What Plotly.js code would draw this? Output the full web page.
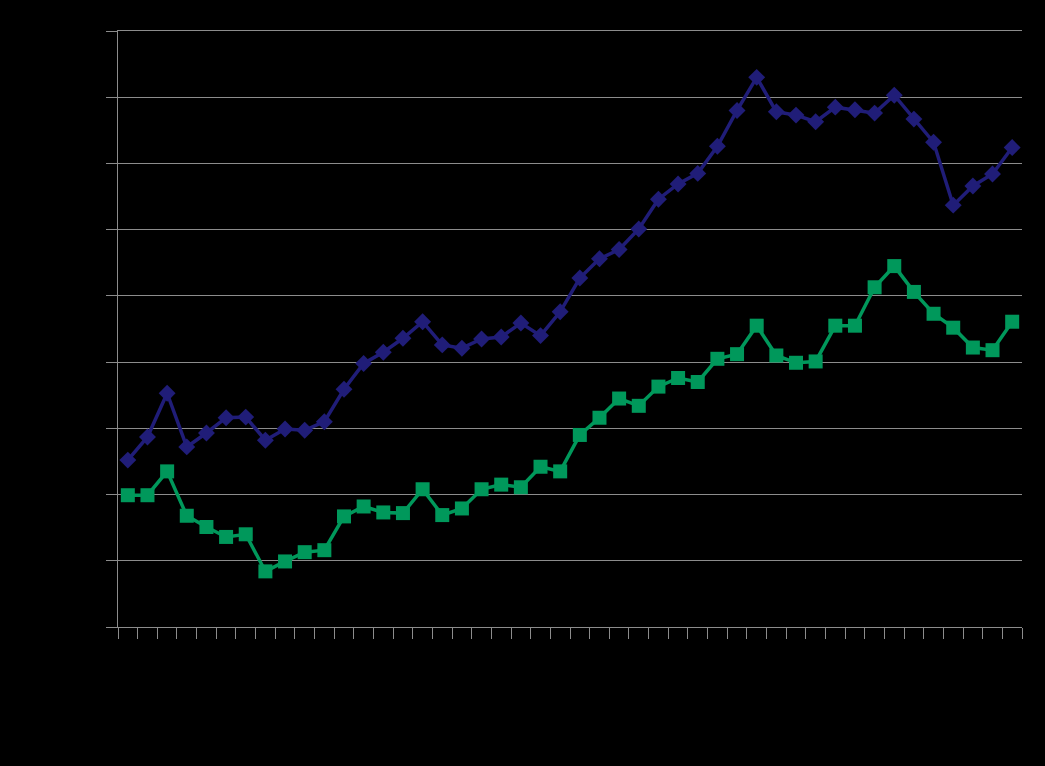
<!DOCTYPE html>
<html>
<head>
<meta charset="utf-8">
<script src="https://cdn.plot.ly/plotly-3.0.1.min.js"></script>
<style>
  html, body { margin: 0; padding: 0; background: #000; }
  #chart { width: 1045px; height: 766px; }
</style>
</head>
<body>
<div id="chart"></div>
<script>
// Category labels (not visible in the reference; periods 1..46)
const categories = ["1","2","3","4","5","6","7","8","9","10","11","12","13","14","15","16","17","18","19","20","21","22","23","24","25","26","27","28","29","30","31","32","33","34","35","36","37","38","39","40","41","42","43","44","45","46"];

// Upper series (navy, diamonds)
const seriesA = [2.52, 2.87, 3.53, 2.72, 2.93, 3.16, 3.17, 2.82, 2.99, 2.97,
                 3.10, 3.59, 3.98, 4.15, 4.36, 4.61, 4.26, 4.21, 4.35, 4.38,
                 4.59, 4.40, 4.76, 5.27, 5.56, 5.70, 6.01, 6.46, 6.69, 6.85,
                 7.26, 7.80, 8.30, 7.78, 7.73, 7.63, 7.85, 7.81, 7.76, 8.03,
                 7.67, 7.32, 6.37, 6.66, 6.84, 7.24];

// Lower series (green, squares)
const seriesB = [1.99, 1.99, 2.35, 1.68, 1.51, 1.36, 1.40, 0.84, 0.99, 1.13,
                 1.16, 1.67, 1.82, 1.73, 1.72, 2.08, 1.69, 1.79, 2.08, 2.15,
                 2.11, 2.42, 2.35, 2.90, 3.16, 3.45, 3.34, 3.63, 3.76, 3.70,
                 4.05, 4.12, 4.55, 4.10, 3.99, 4.01, 4.55, 4.55, 5.13, 5.45,
                 5.06, 4.73, 4.52, 4.22, 4.18, 4.61];

const yTicks = [0, 1, 2, 3, 4, 5, 6, 7, 8, 9];

const navy = "#201D78";
const green = "#00985B";

const traces = [
  {
    x: categories, y: seriesA, type: "scatter", mode: "lines+markers",
    name: "A",
    line: { color: navy, width: 3.5 },
    marker: { symbol: "diamond", size: 13, color: navy },
    cliponaxis: false
  },
  {
    x: categories, y: seriesB, type: "scatter", mode: "lines+markers",
    name: "B",
    line: { color: green, width: 3.5 },
    marker: { symbol: "square", size: 14, color: green },
    cliponaxis: false
  }
];

const layout = {
  width: 1045, height: 766,
  paper_bgcolor: "#000", plot_bgcolor: "#000",
  margin: { l: 118, r: 23, t: 31, b: 139 },
  showlegend: false,
  font: { family: "Liberation Sans, Arial, sans-serif", color: "#000", size: 12 },
  xaxis: {
    type: "category",
    tickson: "boundaries",
    ticks: "outside", ticklen: 11, tickcolor: "#8c8c8c", tickwidth: 1,
    showline: true, linecolor: "#8c8c8c", linewidth: 1, mirror: true,
    showgrid: false, zeroline: false,
    showticklabels: false,
    range: [-0.5, 45.5]
  },
  yaxis: {
    range: [0, 9],
    tickvals: yTicks,
    ticks: "outside", ticklen: 11, tickcolor: "#8c8c8c", tickwidth: 1,
    showline: true, linecolor: "#8c8c8c", linewidth: 1,
    showgrid: true, gridcolor: "#8c8c8c", gridwidth: 1,
    zeroline: false,
    showticklabels: false
  }
};

Plotly.newPlot("chart", traces, layout, { displayModeBar: false, staticPlot: true });
</script>
</body>
</html>
